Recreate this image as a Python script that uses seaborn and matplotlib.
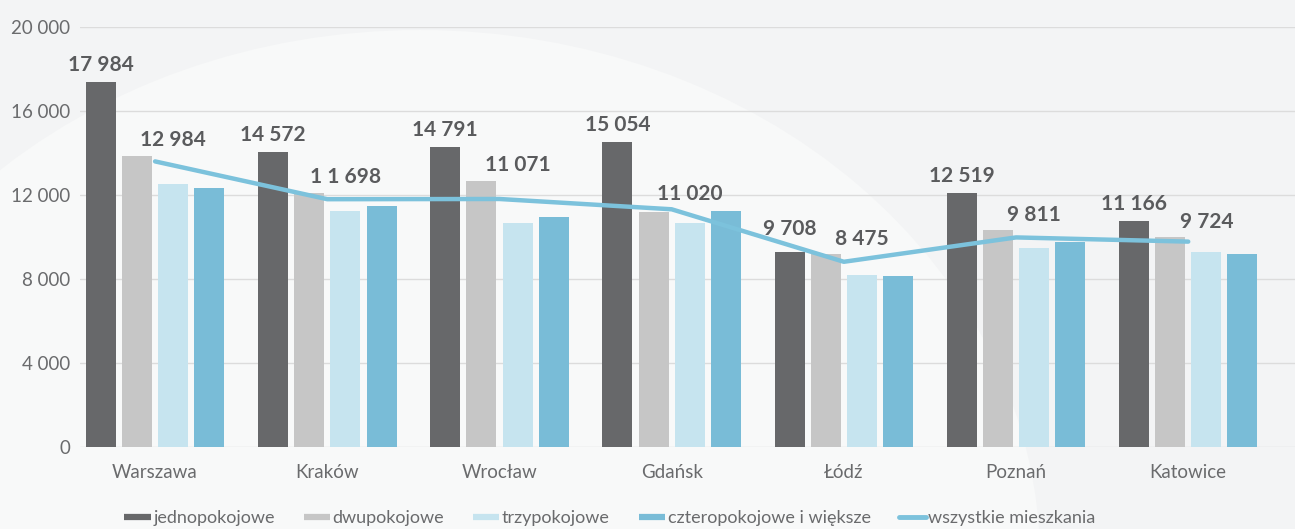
import numpy as np
import pandas as pd
import matplotlib
matplotlib.use("Agg")
import matplotlib.pyplot as plt
from matplotlib.lines import Line2D
from matplotlib.patches import Ellipse
from matplotlib.ticker import FuncFormatter
import seaborn as sns

cities = ["Warszawa", "Kraków", "Wrocław", "Gdańsk", "Łódź", "Poznań", "Katowice"]
series_names = ["jednopokojowe", "dwupokojowe", "trzypokojowe", "czteropokojowe i większe"]
jednopokojowe = [17400, 14060, 14300, 14540, 9300, 12110, 10780]
dwupokojowe = [13870, 12110, 12680, 11180, 9190, 10330, 9980]
trzypokojowe = [12540, 11250, 10650, 10650, 8190, 9460, 9300]
czteropokojowe = [12320, 11490, 10970, 11250, 8160, 9750, 9180]
wszystkie = [13600, 11800, 11810, 11320, 8820, 9980, 9780]
line_name = "wszystkie mieszkania"
label_jedno = ["17 984", "14 572", "14 791", "15 054", "9 708", "12 519", "11 166"]
label_all = ["12 984", "1 1 698", "11 071", "11 020", "8 475", "9 811", "9 724"]
y_ticks = [0, 4000, 8000, 12000, 16000, 20000]

colors = ["#67686a", "#c6c6c6", "#c6e4ef", "#79bcd7"]
line_color = "#7cc2dc"
text_dark = "#5a5b5d"
text_gray = "#6a6b6d"

df = pd.DataFrame({
    "city": np.repeat(cities, 4),
    "typ": series_names * len(cities),
    "value": np.array([jednopokojowe, dwupokojowe, trzypokojowe, czteropokojowe]).T.ravel(),
})

sns.set_theme(style="white")
plt.rcParams["font.family"] = ["Lato", "DejaVu Sans"]

bg = "#f3f4f5"
fig = plt.figure(figsize=(12.95, 5.29), dpi=100, facecolor=bg)
# subtle decorative swoosh in the background
fig.patches.append(Ellipse((420 / 1295, 1 - 560 / 529), 1240 / 1295, 1060 / 529,
                           transform=fig.transFigure, facecolor="#f8f9f9",
                           edgecolor="none", zorder=-5))
ax = fig.add_axes([80 / 1295, 82 / 529, 1215 / 1295, 420 / 529])
ax.set_zorder(2)
ax.set_facecolor("none")

sns.barplot(data=df, x="city", y="value", hue="typ", hue_order=series_names,
            palette=colors, width=0.84, gap=0.17, saturation=1, ax=ax,
            legend=False, zorder=3, linewidth=0, edgecolor="none")
xs = np.arange(len(cities))
sns.lineplot(x=xs, y=wszystkie, color=line_color, lw=3.2, ax=ax, zorder=4,
             solid_capstyle="round", solid_joinstyle="round")

ax.set_xlim(-0.436, 6.62)
ax.set_ylim(0, 20000)
ax.set_yticks(y_ticks)
ax.yaxis.set_major_formatter(FuncFormatter(lambda v, p: f"{v:,.0f}".replace(",", " ")))
ax.grid(axis="y", color="#dcdcdc", lw=1.0, zorder=0)
ax.grid(axis="x", visible=False)
for s in ax.spines.values():
    s.set_visible(False)
ax.tick_params(axis="y", length=0, pad=7, labelsize=13.5, labelcolor=text_gray)
ax.tick_params(axis="x", length=0, pad=12, labelsize=13.5, labelcolor=text_gray)
ax.set_xlabel("")
ax.set_ylabel("")

# labels on jednopokojowe bars
dark_patches = ax.containers[0].patches
light_patches = ax.containers[2].patches
for i, p in enumerate(dark_patches):
    cx = p.get_x() + p.get_width() / 2
    yv = max(p.get_height(), np.interp(cx, xs, wszystkie, left=0, right=0))
    ax.annotate(label_jedno[i], (cx, yv), xytext=(0, 12), textcoords="offset points",
                ha="center", va="center", fontsize=15, fontweight="bold",
                color=text_dark, zorder=6, annotation_clip=False)
for i, p in enumerate(light_patches):
    cx = p.get_x() + p.get_width() / 2
    yv = max(dwupokojowe[i], wszystkie[i])
    ax.annotate(label_all[i], (cx, yv), xytext=(0, 11), textcoords="offset points",
                ha="center", va="center", fontsize=15, fontweight="bold",
                color=text_dark, zorder=6, annotation_clip=False)

handles = [Line2D([0], [0], color=c, lw=4.5, solid_capstyle="butt") for c in colors]
handles.append(Line2D([0], [0], color=line_color, lw=3.5, solid_capstyle="round"))
leg = fig.legend(handles, series_names + [line_name], loc="center",
                 bbox_to_anchor=(0.471, 0.02), ncol=5, frameon=False, fontsize=13,
                 handlelength=1.45, handletextpad=0.15, columnspacing=1.6,
                 labelcolor=text_gray)
leg.set_zorder(3)

fig.savefig("out.png", dpi=100, facecolor=bg)
